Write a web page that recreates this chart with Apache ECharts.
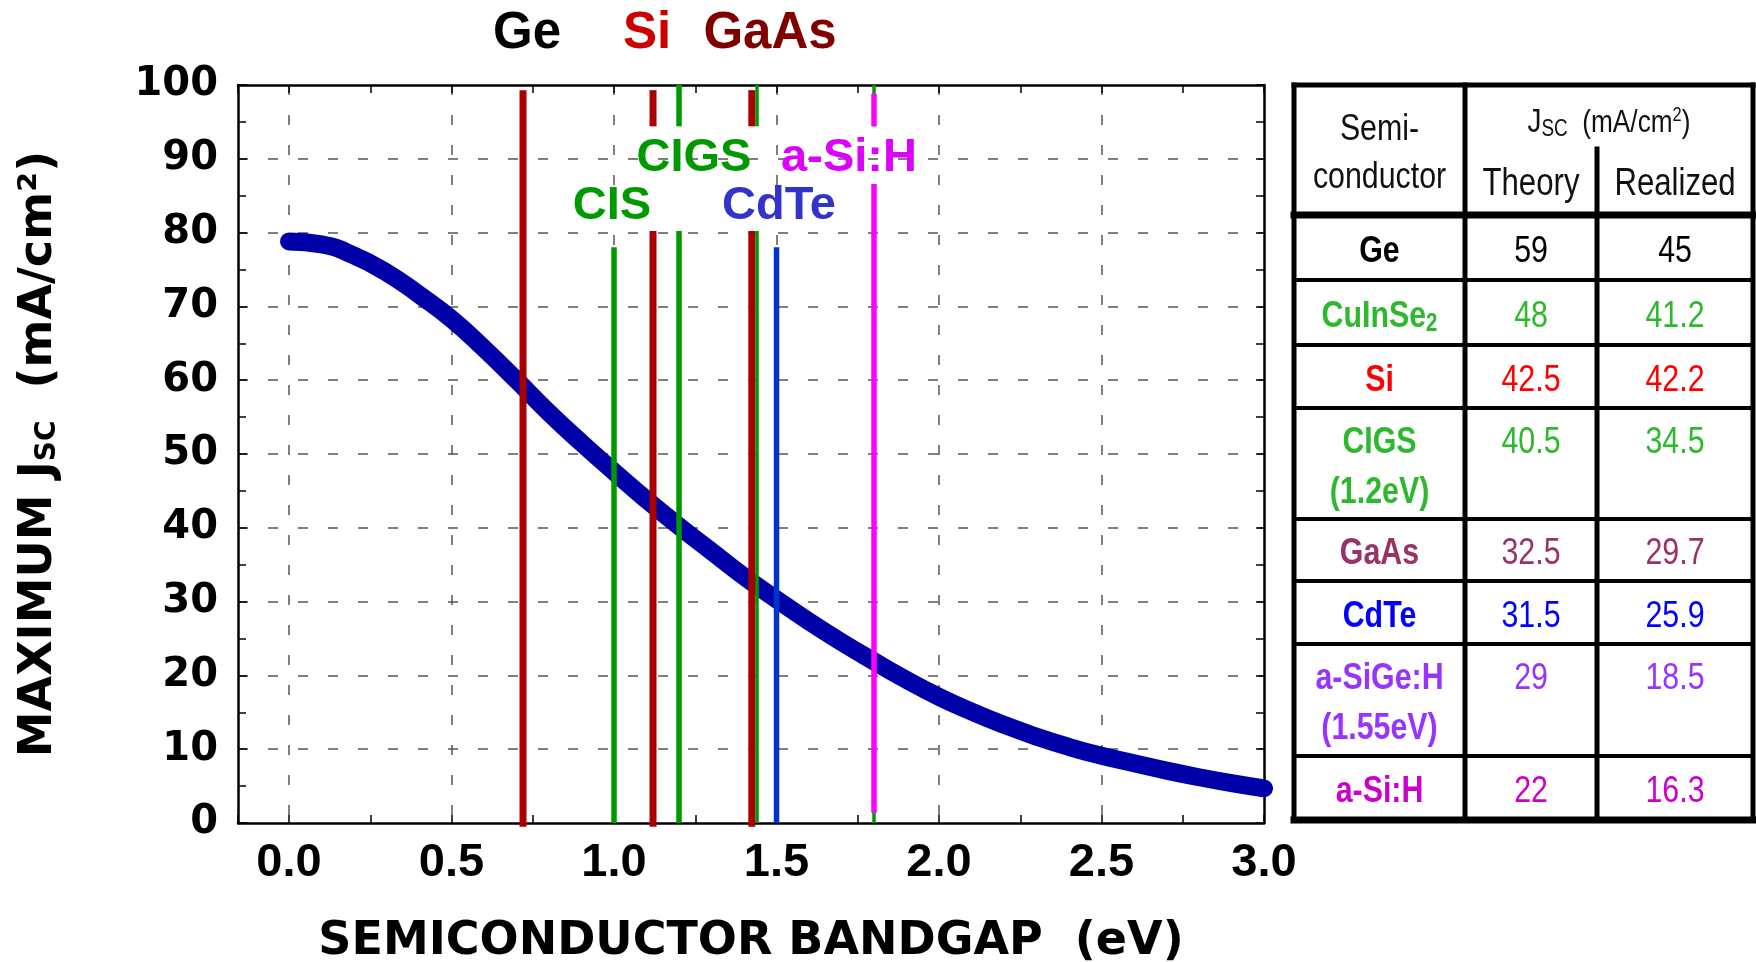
<!DOCTYPE html>
<html>
<head>
<meta charset="utf-8">
<script src="https://cdn.jsdelivr.net/npm/echarts@6/dist/echarts.min.js"></script>
<style>
  html, body { margin: 0; padding: 0; background: #ffffff; }
  #chart { width: 1756px; height: 962px; }
</style>
</head>
<body>
<div id="chart"></div>
<script>
// Maximum short-circuit current density versus semiconductor bandgap
const bandgapEV = [0.0, 0.1, 0.2, 0.3, 0.4, 0.5, 0.6, 0.7, 0.8, 0.9, 1.0, 1.1, 1.2, 1.3, 1.4, 1.5,
                   1.6, 1.7, 1.8, 1.9, 2.0, 2.1, 2.2, 2.3, 2.4, 2.5, 2.6, 2.7, 2.8, 2.9, 3.0];
const maxJsc = [78.8, 78.4, 76.9, 74.6, 71.6, 68.3, 64.3, 60.0, 55.6, 51.5, 47.6, 43.8, 40.2, 36.8, 33.4, 30.3,
                27.3, 24.5, 21.9, 19.4, 17.1, 15.1, 13.3, 11.7, 10.3, 9.1, 8.1, 7.1, 6.2, 5.4, 4.7];

// Bandgap markers (eV)
const markerNames = ['Ge', 'CIS', 'Si', 'CIGS', 'GaAs', 'CIGS-2', 'CdTe', 'a-Si:H-base', 'a-Si:H'];
const markerEV    = [0.72, 1.0, 1.12, 1.2, 1.424, 1.44, 1.5, 1.8, 1.8];

// Table: realized vs theoretical Jsc (mA/cm2)
const tableNames    = ['Ge', 'CuInSe2', 'Si', 'CIGS', 'GaAs', 'CdTe', 'a-SiGe:H', 'a-Si:H'];
const tableSubNames = ['', '', '', '(1.2eV)', '', '', '(1.55eV)', ''];
const theoryJsc     = ['59', '48', '42.5', '40.5', '32.5', '31.5', '29', '22'];
const realizedJsc   = ['45', '41.2', '42.2', '34.5', '29.7', '25.9', '18.5', '16.3'];

const xTickLabels = ['0.0', '0.5', '1.0', '1.5', '2.0', '2.5', '3.0'];

// ---- styling ----
const RED = '#aa0000', GREEN = '#009900', BLUE = '#0033cc', MAGENTA = '#ff00ff';
// per-marker stroke style and visible y-spans (gaps leave room for the labels)
const markerStyle = {
  'Ge':          { color: RED,     width: 7,   spans: [[-0.5, 99.3]] },
  'CIS':         { color: GREEN,   width: 5.5, spans: [[0, 78.0]] },
  'Si':          { color: RED,     width: 7,   spans: [[94.4, 99.3], [-0.5, 80.2]] },
  'CIGS':        { color: GREEN,   width: 5.5, spans: [[94.4, 100], [0, 80.2]] },
  'GaAs':        { color: RED,     width: 7,   spans: [[94.4, 99.3], [-0.5, 80.2]] },
  'CIGS-2':      { color: GREEN,   width: 3.5, spans: [[94.4, 100], [0, 80.2]] },
  'CdTe':        { color: BLUE,    width: 5.5, spans: [[0, 78.0]] },
  'a-Si:H-base': { color: GREEN,   width: 3.5, spans: [[94.4, 100], [0, 86.6]] },
  'a-Si:H':      { color: MAGENTA, width: 5.5, spans: [[94.4, 98.8], [1.4, 86.6]] }
};

const tableColors = ['#000000', '#2eb82e', '#ff0000', '#2eb82e', '#993366', '#0000ff', '#9933ff', '#cc00cc'];

const series = [];
series.push({
  type: 'line',
  data: bandgapEV.map((x, i) => [x, maxJsc[i]]),
  smooth: true,
  showSymbol: false,
  symbol: 'none',
  lineStyle: { color: '#0000a8', width: 18, cap: 'round', join: 'round' },
  z: 3,
  silent: true,
  animation: false
});
markerNames.forEach((name, i) => {
  const st = markerStyle[name];
  st.spans.forEach(sp => {
    series.push({
      type: 'line',
      data: [[markerEV[i], sp[0]], [markerEV[i], sp[1]]],
      showSymbol: false,
      symbol: 'none',
      clip: false,
      lineStyle: { color: st.color, width: st.width, cap: 'butt' },
      z: 4,
      silent: true,
      animation: false
    });
  });
});

const TITLE_FONT = 'DejaVu Sans';
const LABEL_FONT = 'Liberation Sans';
const TABLE_FONT = 'Liberation Sans';
const NARROW = 0.82;   // horizontal squeeze for the condensed table lettering

// ---- labels above the plot ----
const graphic = [];
function addText(text, x, y, size, color, weight) {
  graphic.push({
    type: 'text', x: x, y: y, z: 10, silent: true,
    style: {
      text: text, fill: color, align: 'center', verticalAlign: 'middle',
      fontSize: size, fontFamily: LABEL_FONT, fontWeight: weight || 'bold'
    }
  });
}
addText('Ge', 527, 34, 51, '#000000');
addText('Si', 647, 34, 51, '#cc0000');
addText('GaAs', 770, 34, 51, '#800000');
addText('CIGS', 694, 158, 47, '#009900');
addText('a-Si:H', 849, 158, 47, '#dd00ff');
addText('CIS', 612, 206, 47, '#009900');
addText('CdTe', 779, 206, 47, '#3333cc');

// ---- table ----
const TX = [1294, 1465, 1597, 1753];
const TY = [85, 215, 280, 345, 408, 519, 581, 644, 756, 820];
function addLine(x1, y1, x2, y2, w) {
  graphic.push({
    type: 'line', silent: true, z: 10,
    shape: { x1: x1, y1: y1, x2: x2, y2: y2 },
    style: { stroke: '#000000', lineWidth: w, lineCap: 'square' }
  });
}
// horizontal rules
addLine(TX[0], TY[0], TX[3], TY[0], 5);
addLine(TX[0], TY[1], TX[3], TY[1], 7);
for (let r = 2; r < TY.length - 1; r++) addLine(TX[0], TY[r], TX[3], TY[r], 4);
addLine(TX[0], TY[TY.length - 1], TX[3], TY[TY.length - 1], 7);
// vertical rules
addLine(TX[0], TY[0], TX[0], TY[TY.length - 1], 5);
addLine(TX[1], TY[0], TX[1], TY[TY.length - 1], 5);
addLine(TX[2], 149, TX[2], TY[TY.length - 1], 5);
addLine(TX[3], TY[0], TX[3], TY[TY.length - 1], 5);

function tableText(text, x, y, size, color, weight, rich) {
  const style = {
    text: text, fill: color, align: 'center', verticalAlign: 'middle',
    fontSize: size, fontFamily: TABLE_FONT, fontWeight: weight || 'normal'
  };
  if (rich) style.rich = rich;
  graphic.push({ type: 'text', x: x, y: y, scaleX: NARROW, z: 11, silent: true, style: style });
}
const c0 = (TX[0] + TX[1]) / 2, c1 = (TX[1] + TX[2]) / 2, c2 = (TX[2] + TX[3]) / 2;
const DY = 4;
tableText('Semi-', c0, 130, 37, '#111111');
tableText('conductor', c0, 178, 37, '#111111');
tableText('{j|J}{s|SC}{t|  (mA/cm}{p|2}{t|)}', (TX[1] + TX[3]) / 2, 123, 31, '#111111', 'normal', {
  j: { fontSize: 34, fontFamily: TABLE_FONT, fill: '#111111', verticalAlign: 'middle', lineHeight: 36 },
  s: { fontSize: 23, fontFamily: TABLE_FONT, fill: '#111111', verticalAlign: 'bottom', lineHeight: 23 },
  t: { fontSize: 32, fontFamily: TABLE_FONT, fill: '#111111', verticalAlign: 'middle', lineHeight: 36 },
  p: { fontSize: 20, fontFamily: TABLE_FONT, fill: '#111111', verticalAlign: 'top', lineHeight: 20 }
});
tableText('Theory', c1, 185, 38, '#111111');
tableText('Realized', c2, 185, 38, '#111111');

tableNames.forEach((name, i) => {
  const top = TY[i + 1], bottom = TY[i + 2];
  const two = tableSubNames[i] !== '';
  const y1 = (two ? top + 31 : (top + bottom) / 2) + DY;
  const col = tableColors[i];
  if (name === 'CuInSe2') {
    tableText('{n|CuInSe}{b|2}', c0, y1, 37, col, 'bold', {
      n: { fontSize: 37, fontWeight: 'bold', fontFamily: TABLE_FONT, fill: col, verticalAlign: 'middle', lineHeight: 40 },
      b: { fontSize: 25, fontWeight: 'bold', fontFamily: TABLE_FONT, fill: col, verticalAlign: 'bottom', lineHeight: 25 }
    });
  } else {
    tableText(name, c0, y1, 37, col, 'bold');
  }
  if (two) tableText(tableSubNames[i], c0, top + 81 + DY, 37, col, 'bold');
  tableText(theoryJsc[i], c1, y1, 37, col);
  tableText(realizedJsc[i], c2, y1, 37, col);
});

const gridLine = { type: [10, 20], color: '#555555', width: 1.5 };
const frame = { color: '#000000', width: 2.5 };
const X_MIN = -0.157, X_MAX = 3.0;

function fmtX(v) {
  const s = v.toFixed(1);
  return (xTickLabels.indexOf(s) >= 0 && Math.abs(parseFloat(s) - v) < 1e-6) ? s : '';
}

const option = {
  animation: false,
  backgroundColor: '#ffffff',
  grid: { left: 238, right: 492, top: 85, bottom: 139, containLabel: false, outerBoundsMode: 'none' },
  xAxis: [
    {
      type: 'value', position: 'bottom', min: X_MIN, max: X_MAX, minInterval: 0.5, maxInterval: 0.5, splitNumber: 6,
      axisLine: { show: true, onZero: false, lineStyle: frame },
      axisTick: { show: false },
      axisLabel: {
        show: true, margin: 17, color: '#000000', fontFamily: LABEL_FONT, fontWeight: 'bold', fontSize: 47,
        formatter: fmtX
      },
      splitLine: { show: true, showMinLine: false, showMaxLine: false, lineStyle: gridLine },
      name: 'SEMICONDUCTOR BANDGAP  (eV)',
      nameLocation: 'middle', nameGap: 96,
      nameTextStyle: { fontFamily: TITLE_FONT, fontWeight: 'bold', fontSize: 46, color: '#000000' }
    },
    {
      type: 'value', position: 'bottom', min: X_MIN, max: X_MAX, minInterval: 0.25, maxInterval: 0.25, splitNumber: 12,
      axisLine: { show: false },
      axisTick: { show: true, inside: true, length: 8, lineStyle: { color: '#000000', width: 1.5 } },
      axisLabel: { show: false }, splitLine: { show: false }
    },
    {
      type: 'value', position: 'top', min: X_MIN, max: X_MAX, minInterval: 0.25, maxInterval: 0.25, splitNumber: 12,
      axisLine: { show: true, onZero: false, lineStyle: frame },
      axisTick: { show: true, inside: true, length: 8, lineStyle: { color: '#000000', width: 1.5 } },
      axisLabel: { show: false }, splitLine: { show: false }
    }
  ],
  yAxis: [
    {
      type: 'value', position: 'left', min: 0, max: 100, interval: 10, z: 1,
      axisLine: { show: true, onZero: false, lineStyle: frame },
      axisTick: { show: true, inside: true, length: 9, lineStyle: { color: '#000000', width: 1.5 } },
      minorTick: { show: true, splitNumber: 2, length: 8, lineStyle: { color: '#000000', width: 1.5 } },
      axisLabel: {
        show: true, margin: 20, color: '#000000', fontFamily: TITLE_FONT, fontWeight: 'bold', fontSize: 40,
        padding: [16, 0, 0, 0]
      },
      splitLine: { show: true, showMinLine: false, showMaxLine: false, lineStyle: gridLine },
      name: '{a|MAXIMUM J}{b|SC}{a|  (mA/cm²)}',
      nameLocation: 'middle', nameGap: 176,
      nameTextStyle: {
        fontFamily: TITLE_FONT, fontWeight: 'bold', fontSize: 46, color: '#000000',
        rich: {
          a: { fontFamily: TITLE_FONT, fontWeight: 'bold', fontSize: 46, color: '#000000', verticalAlign: 'bottom', lineHeight: 51 },
          b: { fontFamily: TITLE_FONT, fontWeight: 'bold', fontSize: 28, color: '#000000', verticalAlign: 'bottom', lineHeight: 35 }
        }
      }
    },
    {
      type: 'value', position: 'right', min: 0, max: 100, interval: 5, z: 1,
      axisLine: { show: true, onZero: false, lineStyle: frame },
      axisTick: { show: true, inside: true, length: 8, lineStyle: { color: '#000000', width: 1.5 } },
      axisLabel: { show: false }, splitLine: { show: false }
    }
  ],
  series: series,
  graphic: graphic
};

const chart = echarts.init(document.getElementById('chart'), null, { renderer: 'canvas' });
chart.setOption(option);
</script>
</body>
</html>
